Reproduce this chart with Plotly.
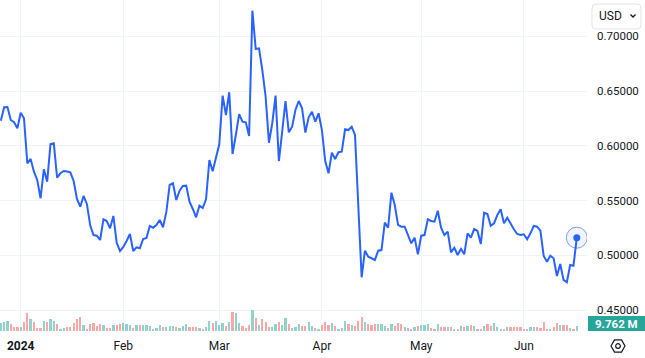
import math
import pandas as pd
import plotly.graph_objects as go

# ---------------- data ----------------
start_date = "2023-12-26"
prices = [
    0.6229, 0.6352, 0.6354, 0.6236, 0.6215, 0.6160, 0.6302, 0.6251, 0.5840, 0.5880,
    0.5764, 0.5688, 0.5521, 0.5785, 0.5672, 0.6016, 0.6023, 0.5709, 0.5749, 0.5770,
    0.5765, 0.5758, 0.5679, 0.5514, 0.5444, 0.5542, 0.5469, 0.5274, 0.5185, 0.5179,
    0.5140, 0.5329, 0.5313, 0.5247, 0.5359, 0.5115, 0.5039, 0.5076, 0.5131, 0.5195,
    0.5039, 0.5073, 0.5064, 0.5149, 0.5158, 0.5268, 0.5252, 0.5277, 0.5322, 0.5256,
    0.5396, 0.5642, 0.5658, 0.5505, 0.5590, 0.5633, 0.5636, 0.5490, 0.5423, 0.5347,
    0.5453, 0.5432, 0.5514, 0.5870, 0.5767, 0.5886, 0.6016, 0.6458, 0.6281, 0.6489,
    0.5925, 0.6099, 0.6290, 0.6220, 0.6215, 0.6090, 0.7234, 0.6884, 0.6890, 0.6692,
    0.6448, 0.6028, 0.6206, 0.6458, 0.5861, 0.6129, 0.6409, 0.6123, 0.6174, 0.6327,
    0.6409, 0.6342, 0.6120, 0.6260, 0.6311, 0.6220, 0.6297, 0.6144, 0.5861, 0.5749,
    0.5937, 0.5880, 0.5941, 0.5946, 0.6151, 0.6144, 0.6174, 0.6099, 0.5459, 0.4799,
    0.5042, 0.4987, 0.4973, 0.4957, 0.5042, 0.5048, 0.5298, 0.5252, 0.5572, 0.5459,
    0.5277, 0.5261, 0.5261, 0.5185, 0.5110, 0.5161, 0.5009, 0.5179, 0.5185, 0.5329,
    0.5313, 0.5307, 0.5407, 0.5252, 0.5185, 0.5216, 0.5027, 0.5069, 0.5003, 0.5058,
    0.5009, 0.5201, 0.5161, 0.5240, 0.5222, 0.5103, 0.5389, 0.5377, 0.5270, 0.5292,
    0.5368, 0.5420, 0.5292, 0.5343, 0.5286, 0.5238, 0.5195, 0.5185, 0.5192, 0.5146,
    0.5201, 0.5268, 0.5261, 0.5225, 0.4994, 0.4942, 0.4996, 0.4973, 0.4811, 0.4921,
    0.4775, 0.4754, 0.4912, 0.4905, 0.5161,
]
volumes_m = [
    15.3, 18.1, 20.2, 13.9, 7.7, 7.7, 7.7, 18.1, 34.9, 22.3,
    18.1, 5.6, 5.6, 20.2, 18.1, 22.3, 20.2, 13.9, 3.5, 5.6,
    7.7, 7.7, 16.0, 22.3, 26.5, 11.8, 3.5, 13.9, 16.0, 9.8,
    13.9, 11.8, 5.6, 5.6, 11.8, 11.8, 13.9, 16.0, 13.9, 11.8,
    5.6, 11.8, 11.8, 11.8, 11.8, 9.8, 3.5, 5.6, 11.8, 7.7,
    7.7, 9.8, 9.8, 7.7, 5.6, 9.8, 13.9, 7.7, 7.7, 7.7,
    5.6, 3.5, 7.7, 20.2, 16.0, 20.2, 11.8, 16.0, 9.8, 18.1,
    36.9, 34.9, 16.0, 9.8, 5.6, 11.8, 41.1, 24.4, 11.8, 22.3,
    18.1, 7.7, 7.7, 13.9, 18.1, 11.8, 24.4, 13.9, 5.6, 7.7,
    13.9, 9.8, 9.8, 18.1, 9.8, 5.6, 3.5, 11.8, 18.1, 11.8,
    16.0, 9.8, 3.5, 5.6, 20.2, 13.9, 11.8, 9.8, 20.2, 26.5,
    18.1, 13.9, 11.8, 13.9, 13.9, 13.9, 9.8, 5.6, 13.9, 9.8,
    16.0, 13.9, 7.7, 5.6, 3.5, 7.7, 9.8, 11.8, 11.8, 13.9,
    5.6, 3.5, 13.9, 7.7, 7.7, 7.7, 7.7, 3.5, 3.5, 9.8,
    7.7, 9.8, 11.8, 9.8, 3.5, 3.5, 9.8, 13.9, 9.8, 16.0,
    7.7, 3.5, 3.5, 7.7, 7.7, 7.7, 7.7, 7.7, 3.5, 3.5,
    7.7, 7.7, 7.7, 5.6, 18.1, 3.5, 3.5, 7.7, 16.0, 11.8,
    11.8, 11.8, 5.6, 3.5, 9.762,
]
month_ticks = ["2024-01-01", "2024-02-01", "2024-03-01", "2024-04-01", "2024-05-01", "2024-06-01"]
month_labels = ["<b>2024</b>", "Feb", "Mar", "Apr", "May", "Jun"]
price_ticks = [0.45, 0.50, 0.55, 0.60, 0.65, 0.70]
volume_label = "9.762 M"
currency = "USD"

dates = pd.date_range(start_date, periods=len(prices), freq="D")

# ---------------- styling ----------------
W, H = 645, 358
PLOT_W, PLOT_BOTTOM = 587, 331
LINE = "#2962ff"
GRID = "#f0f3fa"
TXT = "#131722"
UP_VOL = "#92d2cc"
DN_VOL = "#f7a9a7"
FONT = "Roboto"

def px(x):
    return x / PLOT_W

def py(y):
    return (PLOT_BOTTOM - y) / PLOT_BOTTOM

colors = [UP_VOL] + [UP_VOL if prices[i] >= prices[i - 1] else DN_VOL for i in range(1, len(prices))]

fig = go.Figure()
fig.add_trace(go.Bar(x=dates, y=volumes_m, marker=dict(color=colors, line=dict(width=0)),
                     width=0.68 * 86400000, yaxis="y2", hoverinfo="skip"))
fig.add_trace(go.Scatter(x=dates, y=prices, mode="lines", line=dict(color=LINE, width=2),
                         hoverinfo="skip"))
fig.add_trace(go.Scatter(x=[dates[-1]], y=[prices[-1]], mode="markers",
                         marker=dict(size=21, color="rgba(41,98,255,0.07)",
                                     line=dict(color="rgba(41,98,255,0.6)", width=1)),
                         hoverinfo="skip"))
fig.add_trace(go.Scatter(x=[dates[-1]], y=[prices[-1]], mode="markers",
                         marker=dict(size=7, color=LINE), hoverinfo="skip"))

shapes = []
shapes.append(dict(type="rect", xref="paper", yref="paper", x0=px(588), x1=px(645),
                   y0=py(31), y1=py(0), fillcolor="white", line=dict(width=0), layer="above"))
r = 4
x0b, x1b, y0b, y1b = 592, 641, 4, 29
path = (f"M {px(x0b + r)},{py(y0b)} L {px(x1b - r)},{py(y0b)} "
        f"Q {px(x1b)},{py(y0b)} {px(x1b)},{py(y0b + r)} L {px(x1b)},{py(y1b - r)} "
        f"Q {px(x1b)},{py(y1b)} {px(x1b - r)},{py(y1b)} L {px(x0b + r)},{py(y1b)} "
        f"Q {px(x0b)},{py(y1b)} {px(x0b)},{py(y1b - r)} L {px(x0b)},{py(y0b + r)} "
        f"Q {px(x0b)},{py(y0b)} {px(x0b + r)},{py(y0b)} Z")
shapes.append(dict(type="path", xref="paper", yref="paper", path=path,
                   fillcolor="white", line=dict(color="#e0e3eb", width=1), layer="above"))
shapes.append(dict(type="path", xref="paper", yref="paper",
                   path=f"M {px(630.5)},{py(14.5)} L {px(633)},{py(17)} L {px(635.5)},{py(14.5)}",
                   line=dict(color=TXT, width=1.3), layer="above"))
shapes.append(dict(type="rect", xref="paper", yref="paper", x0=px(588), x1=px(645),
                   y0=py(331), y1=py(316), fillcolor="#26a69a", line=dict(width=0), layer="above"))
cx, cy, rr = 618, 346, 7
pts = [(cx + rr * math.cos(math.radians(a)), cy + rr * math.sin(math.radians(a))) for a in range(0, 360, 60)]
hexpath = "M " + " L ".join(f"{px(a)},{py(b)}" for a, b in pts) + " Z"
shapes.append(dict(type="path", xref="paper", yref="paper", path=hexpath,
                   line=dict(color=TXT, width=1.2), layer="above"))
shapes.append(dict(type="circle", xref="paper", yref="paper", x0=px(cx - 2.3), x1=px(cx + 2.3),
                   y0=py(cy + 2.3), y1=py(cy - 2.3), line=dict(color=TXT, width=1.2), layer="above"))

annotations = [
    dict(xref="paper", yref="paper", x=px(597), y=py(16.5), text=currency, showarrow=False,
         xanchor="left", yanchor="middle", font=dict(family=FONT, size=12, color=TXT)),
    dict(xref="paper", yref="paper", x=px(616), y=py(323.5), text=f"<b>{volume_label}</b>",
         showarrow=False, xanchor="center", yanchor="middle",
         font=dict(family=FONT, size=11.5, color="white")),
]

fig.update_layout(
    width=W, height=H,
    margin=dict(l=0, r=W - PLOT_W, t=0, b=H - PLOT_BOTTOM),
    paper_bgcolor="white", plot_bgcolor="white",
    showlegend=False,
    bargap=0,
    xaxis=dict(type="date", range=["2023-12-25 18:00", "2024-06-20 02:00"],
               tickvals=month_ticks, ticktext=month_labels,
               showgrid=True, gridcolor=GRID, gridwidth=1, zeroline=False, showline=False,
               ticks="", tickfont=dict(family=FONT, size=12, color=TXT), ticklabelstandoff=6),
    yaxis=dict(side="right", range=[0.43087, 0.73315], tickvals=price_ticks, tickformat=".5f",
               showgrid=True, gridcolor=GRID, gridwidth=1, zeroline=False, showline=False,
               ticks="", tickfont=dict(family=FONT, size=11.5, color=TXT), ticklabelstandoff=9),
    yaxis2=dict(overlaying="y", range=[0, 640], visible=False, showgrid=False),
    shapes=shapes,
    annotations=annotations,
)

fig.write_html("out.html", config={"displayModeBar": False, "staticPlot": True})
with open("out.html", "r", encoding="utf-8") as f:
    html = f.read()
html = html.replace("<body>", '<body style="margin:0;padding:0;overflow:hidden">', 1)
html = html.replace("<head>", '<head><style>html,body{margin:0;padding:0;}</style>', 1)
with open("out.html", "w", encoding="utf-8") as f:
    f.write(html)
